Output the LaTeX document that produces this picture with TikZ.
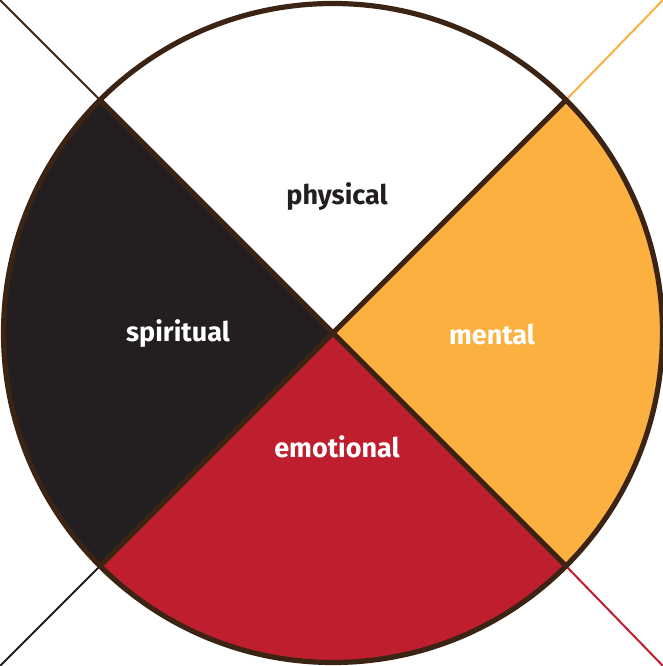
\documentclass[tikz,border=0pt]{standalone}
\usepackage{fontspec}
\setmainfont{Fira Sans}
\usetikzlibrary{calc}
\definecolor{mwbrown}{HTML}{3C2415}
\definecolor{mworange}{HTML}{FBB040}
\definecolor{mwred}{HTML}{BE1E2D}
\definecolor{mwblack}{HTML}{231F20}
\tikzset{
  sector/.style={draw=mwbrown, line width=5.2pt, line join=miter},
  ray/.style={line width=2pt},
  lbl/.style={font=\fontsize{27}{30}\selectfont\bfseries, inner sep=0pt}
}
\begin{document}
\begin{tikzpicture}[x=1pt,y=1pt]
\useasboundingbox (0,0) rectangle (663,666);
\coordinate (c) at (333,333);
\def\R{329.5}
% sectors
\fill[white] (c) -- ++(45:\R) arc (45:135:\R) -- cycle;
\fill[mworange] (c) -- ++(-45:\R) arc (-45:45:\R) -- cycle;
\fill[mwred] (c) -- ++(225:\R) arc (225:315:\R) -- cycle;
\fill[mwblack] (c) -- ++(135:\R) arc (135:225:\R) -- cycle;
% corner points
\coordinate (tl) at ($(c)+(135:\R)$);
\coordinate (tr) at ($(c)+(45:\R)$);
\coordinate (bl) at ($(c)+(225:\R)$);
\coordinate (br) at ($(c)+(-45:\R)$);
\coordinate (TL) at (0,666);
\coordinate (TR) at (663,666);
\coordinate (BL) at (0,0);
\coordinate (BR) at (663,0);
% rays
\draw[ray, mwbrown] (TL) -- (tl);
\draw[ray, mworange] (TR) -- (tr);
\draw[ray, mwblack] (BL) -- (bl);
\draw[ray, mwred] (BR) -- (br);
% dividers and circle
\draw[sector] (tl) -- (br);
\draw[sector] (tr) -- (bl);
\draw[sector] (c) circle (\R);
% labels
\node[lbl, text=mwblack] (phys) at (337,469) {physical};
\node[lbl, text=white] (spir) at (178,332) {spiritual};
\node[lbl, text=white] (ment) at (492,332) {mental};
\node[lbl, text=white] (emo) at (337,219) {emotional};
\end{tikzpicture}
\end{document}
